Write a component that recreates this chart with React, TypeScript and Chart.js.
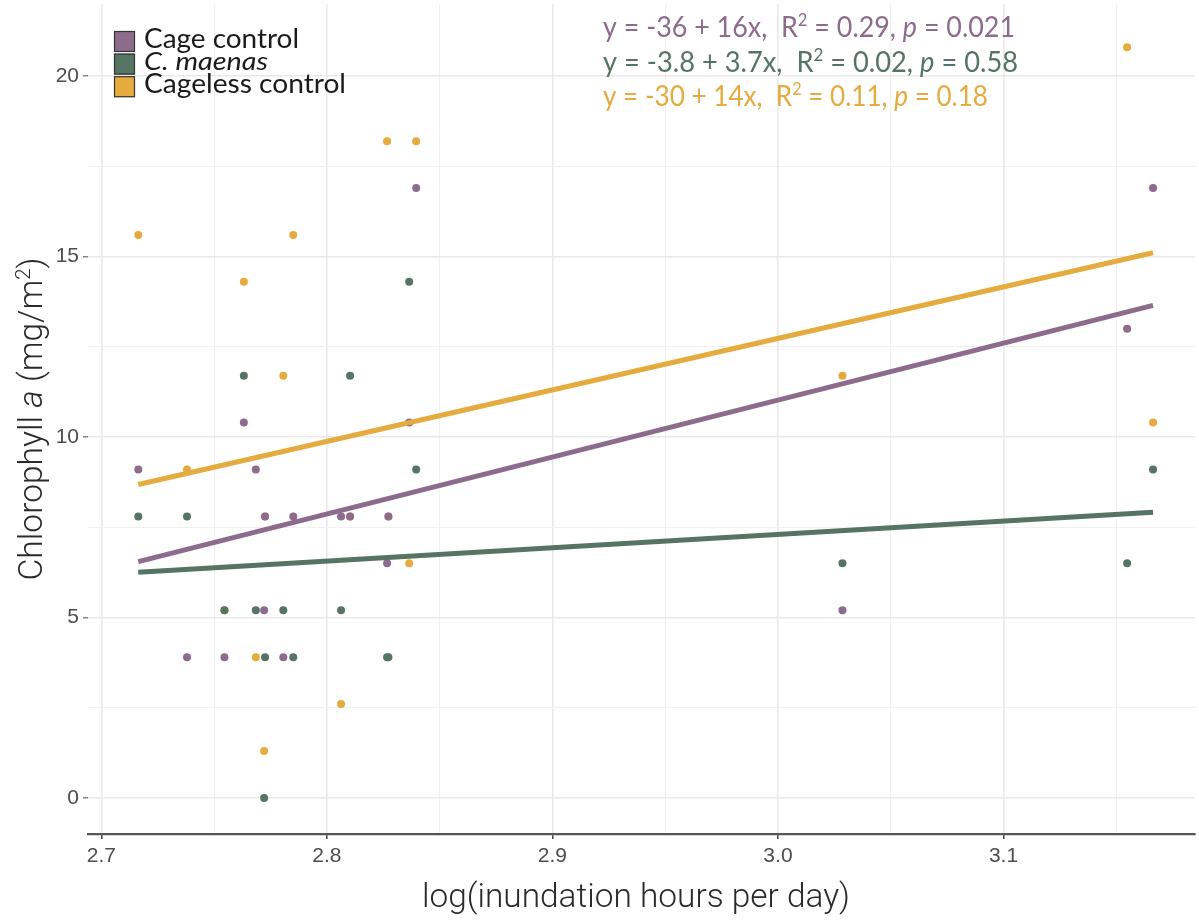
import React, { useEffect, useRef } from "react";
import { Chart, registerables } from "chart.js";

Chart.register(...registerables);

// log(inundation hours per day) of each sampling plot (shared by the three treatments)
const logHours = [
  2.7164, 2.738, 2.7546, 2.7632, 2.7685, 2.7722, 2.7726, 2.7807, 2.7851,
  2.8063, 2.8103, 2.8267, 2.8273, 2.8365, 2.8396, 3.0286, 3.1548, 3.1663,
];
// Chlorophyll a (mg/m2)
const cageControl = [9.1, 3.9, 3.9, 10.4, 9.1, 5.2, 7.8, 3.9, 7.8, 7.8, 7.8, 6.5, 7.8, 10.4, 16.9, 5.2, 13.0, 16.9];
const cMaenas = [7.8, 7.8, 5.2, 11.7, 5.2, 0, 3.9, 5.2, 3.9, 5.2, 11.7, 3.9, 3.9, 14.3, 9.1, 6.5, 6.5, 9.1];
const cagelessControl = [15.6, 9.1, 5.2, 14.3, 3.9, 1.3, 7.8, 11.7, 15.6, 2.6, 7.8, 18.2, 7.8, 6.5, 18.2, 11.7, 20.8, 10.4];

const seriesNames = ["Cage control", "C. maenas", "Cageless control"];
const seriesItalic = [false, true, false];
const seriesColors = ["#8d6b8d", "#567464", "#e5ab3e"];

const fitEquations = ["y = -36 + 16x,  ", "y = -3.8 + 3.7x,  ", "y = -30 + 14x,  "];
const fitR2 = [" = 0.29, ", " = 0.02, ", " = 0.11, "];
const fitP = [" = 0.021", " = 0.58", " = 0.18"];

const xTickLabels = ["2.7", "2.8", "2.9", "3.0", "3.1"];
const yTickLabels = ["0", "5", "10", "15", "20"];

const xTitle = "log(inundation hours per day)";

type Run = { text: string; italic?: boolean; sup?: boolean };

function fitLine(xs: number[], ys: number[]) {
  const n = xs.length;
  const mx = xs.reduce((a, b) => a + b, 0) / n;
  const my = ys.reduce((a, b) => a + b, 0) / n;
  let sxy = 0;
  let sxx = 0;
  for (let i = 0; i < n; i++) {
    sxy += (xs[i] - mx) * (ys[i] - my);
    sxx += (xs[i] - mx) * (xs[i] - mx);
  }
  const b = sxy / sxx;
  const a = my - b * mx;
  const x0 = Math.min(...xs);
  const x1 = Math.max(...xs);
  return [
    { x: x0, y: a + b * x0 },
    { x: x1, y: a + b * x1 },
  ];
}

function drawRuns(
  ctx: CanvasRenderingContext2D,
  runs: Run[],
  x: number,
  y: number,
  size: number,
  family: string,
  color: string,
  targetWidth: number | null,
  align: "left" | "center",
  weight = "normal"
) {
  const fontFor = (r: Run) =>
    `${r.italic ? "italic " : ""}${weight} ${r.sup ? Math.round(size * 0.62) : size}px ${family}`;
  const widths = runs.map((r) => {
    ctx.font = fontFor(r);
    return ctx.measureText(r.text).width;
  });
  const total = widths.reduce((a, b) => a + b, 0);
  const sx = targetWidth ? targetWidth / total : 1;
  ctx.save();
  ctx.translate(x, y);
  ctx.scale(sx, 1);
  ctx.fillStyle = color;
  ctx.textBaseline = "alphabetic";
  ctx.textAlign = "left";
  let cx = align === "center" ? -total / 2 : 0;
  runs.forEach((r, i) => {
    ctx.font = fontFor(r);
    ctx.fillText(r.text, cx, r.sup ? -size * 0.36 : 0);
    cx += widths[i];
  });
  ctx.restore();
}

const isMajorX = (v: number) => Math.round(v * 100) % 10 === 0;
const isMajorY = (v: number) => Math.round(v * 2) % 10 === 0;

const decorations = {
  id: "decorations",
  afterDraw(chart: any) {
    const ctx: CanvasRenderingContext2D = chart.ctx;
    const area = chart.chartArea;

    // legend
    const boxX = 114;
    const boxTop = 31;
    const boxStep = 22.6;
    const boxSize = 21;
    const legendWidths = [155, 124, 202];
    seriesNames.forEach((name, i) => {
      const top = boxTop + i * boxStep;
      ctx.save();
      ctx.fillStyle = seriesColors[i];
      ctx.fillRect(boxX, top, boxSize, boxSize);
      ctx.strokeStyle = "#333333";
      ctx.lineWidth = 1.2;
      ctx.strokeRect(boxX + 0.5, top + 0.5, boxSize - 1, boxSize - 1);
      ctx.restore();
      drawRuns(ctx, [{ text: name, italic: seriesItalic[i] }], 144, top + 16.5, 26, "Lato", "#1a1a1a", legendWidths[i], "left");
    });

    // regression annotations
    const annBase = [36.5, 71.5, 105.5];
    const annWidths = [412, 415, 385];
    fitEquations.forEach((eq, i) => {
      drawRuns(
        ctx,
        [
          { text: eq },
          { text: "R" },
          { text: "2", sup: true },
          { text: fitR2[i] },
          { text: "p", italic: true },
          { text: fitP[i] },
        ],
        603,
        annBase[i],
        29,
        "Lato",
        seriesColors[i],
        annWidths[i],
        "left"
      );
    });

    // x title
    drawRuns(ctx, [{ text: xTitle }], 636, 907, 33, "Roboto", "#2a2a2a", 428, "center", "300");

    // y title (rotated)
    ctx.save();
    ctx.translate(42, (area.top + area.bottom) / 2);
    ctx.rotate(-Math.PI / 2);
    drawRuns(
      ctx,
      [
        { text: "Chlorophyll " },
        { text: "a", italic: true },
        { text: " (mg/m" },
        { text: "2", sup: true },
        { text: ")" },
      ],
      0,
      0,
      33,
      "Roboto",
      "#2a2a2a",
      323,
      "center",
      "300"
    );
    ctx.restore();
  },
};

export default function App() {
  const canvasRef = useRef<HTMLCanvasElement | null>(null);

  useEffect(() => {
    document.body.style.margin = "0";
    const canvas = canvasRef.current;
    if (!canvas) return;

    const seriesValues = [cageControl, cMaenas, cagelessControl];
    const pointOrder = [1, 2, 3];

    const pointSets = seriesValues.map((vals, i) => ({
      label: seriesNames[i],
      data: logHours.map((x, j) => ({ x, y: vals[j] })),
      backgroundColor: seriesColors[i],
      borderWidth: 0,
      pointRadius: 4,
      pointHoverRadius: 4,
      showLine: false,
      order: pointOrder[i],
    }));
    const lineSets = seriesValues.map((vals, i) => ({
      label: seriesNames[i] + " fit",
      data: fitLine(logHours, vals),
      borderColor: seriesColors[i],
      backgroundColor: seriesColors[i],
      borderWidth: 5,
      pointRadius: 0,
      showLine: true,
      fill: false,
      order: 0,
      borderCapStyle: "butt",
    }));

    const xMajorValues = xTickLabels.map(Number);
    const yMajorValues = yTickLabels.map(Number);

    const chart = new Chart(canvas, {
      type: "scatter",
      data: { datasets: [...lineSets, ...pointSets] as any },
      options: {
        animation: false,
        responsive: false,
        devicePixelRatio: 1,
        layout: { padding: 0 },
        plugins: {
          legend: { display: false },
          tooltip: { enabled: false },
          title: { display: false },
        },
        scales: {
          x: {
            type: "linear",
            min: 2.6941,
            max: 3.1849,
            afterFit: (s: any) => {
              s.height = 87;
              s.paddingLeft = 0;
              s.paddingRight = 0;
            },
            ticks: {
              stepSize: 0.05,
              includeBounds: false,
              autoSkip: false,
              maxRotation: 0,
              padding: 5,
              color: "#4d4d4d",
              font: { family: "Liberation Sans", size: 21 },
              callback: (v: any) => {
                const n = Number(v);
                if (!isMajorX(n)) return "";
                const idx = xMajorValues.findIndex((m) => Math.abs(m - n) < 1e-6);
                return idx >= 0 ? xTickLabels[idx] : "";
              },
            },
            grid: {
              color: (c: any) => (isMajorX(c.tick.value) ? "#e9e9e9" : "#f1f1f1"),
              lineWidth: (c: any) => (isMajorX(c.tick.value) ? 1.6 : 1.1),
              tickColor: (c: any) => (isMajorX(c.tick.value) ? "#333333" : "rgba(0,0,0,0)"),
              tickLength: 5,
              tickWidth: 1.4,
              drawTicks: true,
            },
            border: { display: true, color: "#555555", width: 2.2 },
          },
          y: {
            type: "linear",
            min: -1.0,
            max: 22.0,
            afterFit: (s: any) => {
              s.width = 88;
              s.paddingTop = 0;
              s.paddingBottom = 0;
            },
            ticks: {
              stepSize: 2.5,
              includeBounds: false,
              autoSkip: false,
              padding: 4,
              color: "#4d4d4d",
              font: { family: "Liberation Sans", size: 21 },
              callback: (v: any) => {
                const n = Number(v);
                if (!isMajorY(n)) return "";
                const idx = yMajorValues.findIndex((m) => Math.abs(m - n) < 1e-6);
                return idx >= 0 ? yTickLabels[idx] : "";
              },
            },
            grid: {
              color: (c: any) => (isMajorY(c.tick.value) ? "#e9e9e9" : "#f1f1f1"),
              lineWidth: (c: any) => (isMajorY(c.tick.value) ? 1.6 : 1.1),
              tickColor: (c: any) => (isMajorY(c.tick.value) ? "#666666" : "rgba(0,0,0,0)"),
              tickLength: 5,
              tickWidth: 1.2,
              drawTicks: true,
            },
            border: { display: false },
          },
        },
      } as any,
      plugins: [decorations],
    });

    return () => {
      chart.destroy();
    };
  }, []);

  return (
    <div style={{ width: 1199, height: 921, background: "#ffffff" }}>
      <canvas ref={canvasRef} width={1199} height={921} style={{ display: "block" }} />
    </div>
  );
}
